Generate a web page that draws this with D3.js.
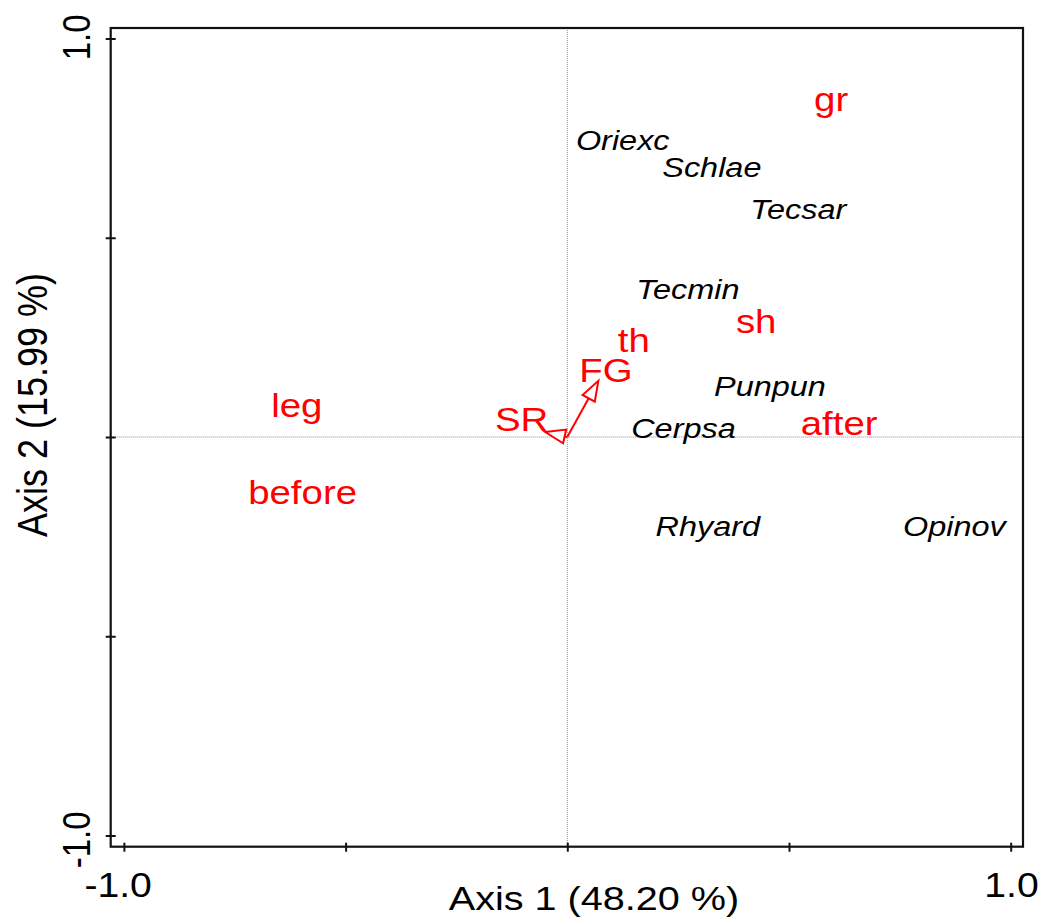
<!DOCTYPE html>
<html>
<head>
<meta charset="utf-8">
<script src="https://cdn.jsdelivr.net/npm/d3@7"></script>
<style>
  html, body { margin: 0; padding: 0; background: #fff; }
  svg { display: block; }
  text { font-family: "Liberation Sans", Arial, sans-serif; }
</style>
</head>
<body>
<svg id="chart" width="1059" height="922"></svg>
<script>
// ---- Data (ordination scores) ----
const speciesNames = ["Oriexc", "Schlae", "Tecsar", "Tecmin", "Punpun", "Cerpsa", "Rhyard", "Opinov"];
const speciesX     = [0.125, 0.326, 0.521, 0.272, 0.457, 0.262, 0.317, 0.873];
const speciesY     = [0.745, 0.676, 0.571, 0.370, 0.127, 0.021, -0.224, -0.224];

const envNames = ["gr", "sh", "th", "after", "leg", "before"];
const envX     = [0.595, 0.426, 0.150, 0.613, -0.610, -0.597];
const envY     = [0.848, 0.292, 0.242, 0.036, 0.079, -0.139];

const arrowNames  = ["FG", "SR"];
const arrowX      = [0.070, -0.050];
const arrowY      = [0.141, 0.0125];
const arrowLabelX = [0.087, -0.103];
const arrowLabelY = [0.169, 0.044];

const xTickValues = [-1, -0.5, 0, 0.5, 1];
const yTickValues = [-1, -0.5, 0, 0.5, 1];
const xTickLabels = ["-1.0", "1.0"];
const yTickLabels = ["-1.0", "1.0"];
const xTitle = "Axis 1 (48.20 %)";
const yTitle = "Axis 2 (15.99 %)";

// ---- Layout ----
const svg = d3.select("#chart");
const frame = { left: 110.7, top: 28, right: 1023, bottom: 846.7 };
const x = d3.scaleLinear().domain([-1, 1]).range([123.9, 1010.7]);
const y = d3.scaleLinear().domain([-1, 1]).range([835.5, 38.5]);
const red = "#ff0000";

// zero lines
svg.append("line")
  .attr("x1", x(0)).attr("x2", x(0)).attr("y1", frame.top).attr("y2", frame.bottom)
  .attr("stroke", "#8a8a8a").attr("stroke-width", 1).attr("stroke-dasharray", "1,1");
svg.append("line")
  .attr("x1", frame.left).attr("x2", frame.right).attr("y1", y(0)).attr("y2", y(0))
  .attr("stroke", "#8a8a8a").attr("stroke-width", 1).attr("stroke-dasharray", "1,1");

// frame
svg.append("rect")
  .attr("x", frame.left).attr("y", frame.top)
  .attr("width", frame.right - frame.left).attr("height", frame.bottom - frame.top)
  .attr("fill", "none").attr("stroke", "#111").attr("stroke-width", 2.2);

// axes ticks
const gx = svg.append("g").attr("transform", `translate(0,${frame.bottom - 4})`)
  .call(d3.axisBottom(x).tickValues(xTickValues).tickSize(9).tickFormat(""));
gx.select(".domain").remove();
gx.selectAll(".tick line").attr("stroke", "#111").attr("stroke-width", 2);

const gy = svg.append("g").attr("transform", `translate(${frame.left + 5},0)`)
  .call(d3.axisLeft(y).tickValues(yTickValues).tickSize(10).tickFormat(""));
gy.select(".domain").remove();
gy.selectAll(".tick line").attr("stroke", "#111").attr("stroke-width", 2);

// helper for horizontally stretched text (as in the reference)
function addText(g, str, px, py, opts) {
  const sx = opts.sx || 1.2;
  const t = g.append("text")
    .attr("transform", `translate(${px},${py}) scale(${sx},1)` + (opts.rotate ? " rotate(-90)" : ""))
    .attr("text-anchor", opts.anchor || "middle")
    .attr("font-size", opts.size)
    .attr("fill", opts.fill || "#000")
    .attr("font-style", opts.italic ? "italic" : "normal")
    .text(str);
  if (opts.dy) t.attr("dy", opts.dy);
  return t;
}

// tick labels
[-1, 1].forEach((v, i) => {
  addText(svg, xTickLabels[i], x(v) + 28, 897, { size: 35, sx: 1.12, anchor: "end" });
});
[-1, 1].forEach((v, i) => {
  addText(svg, yTickLabels[i], 90, y(v) - 24, { size: 33, anchor: "end", rotate: true });
});

// axis titles
addText(svg, xTitle, 594, 910, { size: 33 });
addText(svg, yTitle, 47, 405, { size: 36, rotate: true });

// arrows
const ox = x(0), oy = y(0);
arrowNames.forEach((n, i) => {
  const tx = x(arrowX[i]), ty = y(arrowY[i]);
  const dx = tx - ox, dy = ty - oy;
  const len = Math.sqrt(dx * dx + dy * dy);
  const ux = dx / len, uy = dy / len;
  const hl = Math.min(20, len), hw = 7;
  const bx = tx - ux * hl, by = ty - uy * hl;
  if (len > hl) {
    svg.append("line").attr("x1", ox).attr("y1", oy).attr("x2", bx).attr("y2", by)
      .attr("stroke", red).attr("stroke-width", 2);
  }
  const pts = [[tx, ty], [bx - uy * hw, by + ux * hw], [bx + uy * hw, by - ux * hw]];
  svg.append("polygon").attr("points", pts.map(p => p.join(",")).join(" "))
    .attr("fill", "#fff").attr("stroke", red).attr("stroke-width", 2).attr("stroke-linejoin", "miter");
  addText(svg, n, x(arrowLabelX[i]), y(arrowLabelY[i]), { size: 34, sx: 1.13, fill: red, dy: "0.35em" });
});

// environmental / sample labels
envNames.forEach((n, i) => {
  addText(svg, n, x(envX[i]), y(envY[i]), { size: 34, sx: 1.13, fill: red, dy: "0.35em" });
});

// species labels
speciesNames.forEach((n, i) => {
  addText(svg, n, x(speciesX[i]), y(speciesY[i]), { size: 27.5, sx: 1.18, italic: true, dy: "0.35em" });
});
</script>
</body>
</html>
